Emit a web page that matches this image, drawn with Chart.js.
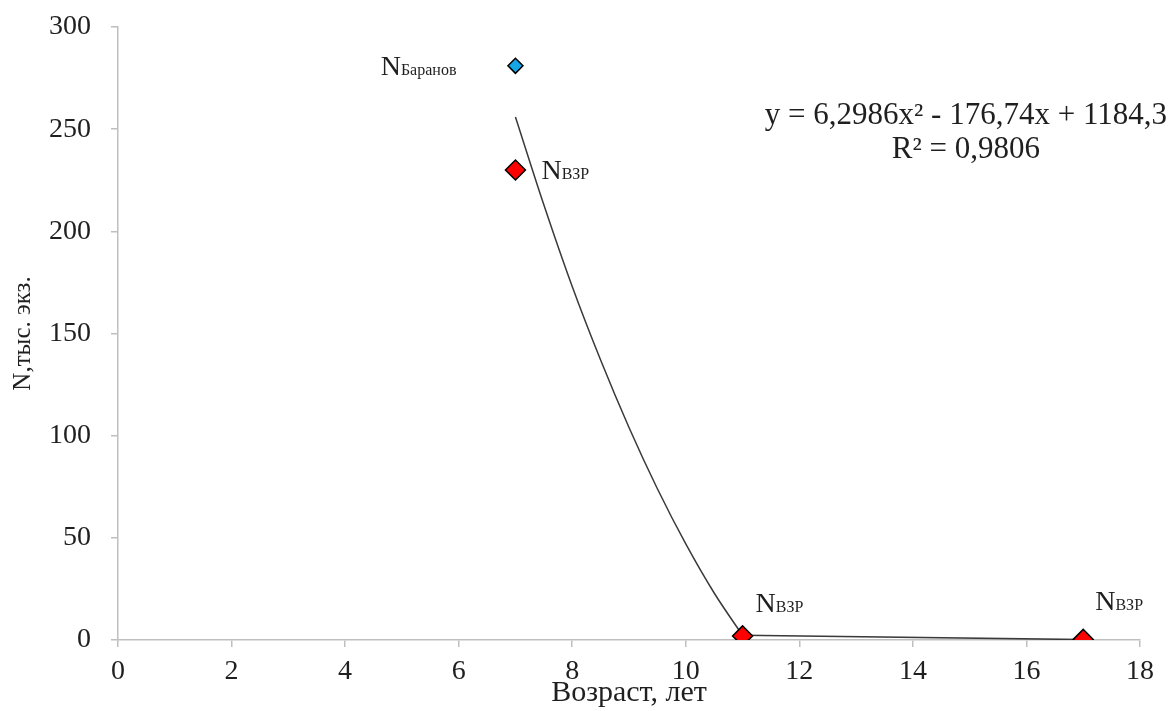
<!DOCTYPE html>
<html>
<head>
<meta charset="utf-8">
<script src="https://cdn.jsdelivr.net/npm/chart.js@4"></script>
<style>
  html, body { margin: 0; padding: 0; background: #fff; }
  #wrap { width: 1171px; height: 711px; position: relative; }
</style>
</head>
<body>
<div id="wrap"><canvas id="chart"></canvas></div>
<script>
'use strict';

// ─── Data ─────────────────────────────────────────────────────────────────────
const VZR_AGE   = [7, 11, 17];
const VZR_N     = [230, 2, 0.3];

const BAR_AGE   = [7];
const BAR_N     = [281];

const TREND_AGE = [7, 7.5, 8, 8.5, 9, 9.5, 10, 10.5, 11];
const TREND_N   = [256, 213, 173, 137, 104, 74, 47, 23, 2.3];

// straight tail from 11 to 17 years
const TAIL_AGE  = [11, 17];
const TAIL_N    = [2.3, 0.2];

const X_TICKS = [0, 2, 4, 6, 8, 10, 12, 14, 16, 18];
const Y_TICKS = [0, 50, 100, 150, 200, 250, 300];

const EQUATION  = 'y = 6,2986x² - 176,74x + 1184,3';
const R_SQUARED = 'R² = 0,9806';

// ─── Look ─────────────────────────────────────────────────────────────────────
const SERIF = "'Liberation Serif', 'Times New Roman', serif";
const TEXT  = '#1f1f1f';
const AXIS  = '#bfbfbf';
const LINE  = '#3a3a3a';

const toPoints = (xs, ys) => xs.map((x, i) => ({ x, y: ys[i] }));

// ─── Point labels + trendline equation ────────────────────────────────────────
function drawSubLabel(ctx, x, y, main, sub, align) {
  ctx.font = '28px ' + SERIF;
  const wMain = ctx.measureText(main).width;
  ctx.font = '16px ' + SERIF;
  const wSub = ctx.measureText(sub).width;
  const start = align === 'right' ? x - wMain - wSub : x;
  ctx.textAlign = 'left';
  ctx.textBaseline = 'alphabetic';
  ctx.font = '28px ' + SERIF;
  ctx.fillText(main, start, y);
  ctx.font = '16px ' + SERIF;
  ctx.fillText(sub, start + wMain, y);
}

const labelsPlugin = {
  id: 'labels',
  afterDatasetsDraw(chart) {
    const { ctx, chartArea, scales: { x, y } } = chart;
    ctx.save();
    ctx.fillStyle = TEXT;

    const px = (v) => x.getPixelForValue(v);
    const py = (v) => y.getPixelForValue(v);

    drawSubLabel(ctx, px(BAR_AGE[0]) - 59, py(BAR_N[0]) + 9, 'N', 'Баранов', 'right');
    drawSubLabel(ctx, px(VZR_AGE[0]) + 26, py(VZR_N[0]) + 9, 'N', 'ВЗР');
    drawSubLabel(ctx, px(VZR_AGE[1]) + 13, py(VZR_N[1]) - 24, 'N', 'ВЗР');
    drawSubLabel(ctx, px(VZR_AGE[2]) + 12, py(VZR_N[2]) - 29, 'N', 'ВЗР');

    ctx.font = '31px ' + SERIF;
    ctx.textBaseline = 'alphabetic';
    const right = chartArea.right + 27;
    const w = ctx.measureText(EQUATION).width;
    ctx.textAlign = 'right';
    ctx.fillText(EQUATION, right, 124);
    ctx.textAlign = 'center';
    ctx.fillText(R_SQUARED, right - w / 2, 158);
    ctx.restore();
  },
};

// ─── Chart ────────────────────────────────────────────────────────────────────
new Chart(document.getElementById('chart').getContext('2d'), {
  type: 'scatter',
  data: {
    datasets: [
      {
        label: 'Тренд',
        type: 'line',
        data: toPoints(TREND_AGE, TREND_N),
        borderColor: LINE,
        borderWidth: 1.5,
        pointRadius: 0,
        cubicInterpolationMode: 'monotone',
        fill: false,
        order: 4,
      },
      {
        label: 'Хвост',
        type: 'line',
        data: toPoints(TAIL_AGE, TAIL_N),
        borderColor: LINE,
        borderWidth: 1.5,
        pointRadius: 0,
        tension: 0,
        fill: false,
        order: 3,
      },
      {
        label: 'NВЗР',
        data: toPoints(VZR_AGE, VZR_N),
        pointStyle: 'rectRot',
        pointRadius: 10,
        backgroundColor: '#ff0000',
        borderColor: '#000',
        borderWidth: 1.5,
        order: 1,
      },
      {
        label: 'NБаранов',
        data: toPoints(BAR_AGE, BAR_N),
        pointStyle: 'rectRot',
        pointRadius: 7.5,
        backgroundColor: '#14a6e6',
        borderColor: '#000',
        borderWidth: 1.5,
        order: 2,
      },
    ],
  },
  options: {
    responsive: true,
    maintainAspectRatio: false,
    animation: false,
    layout: { padding: { top: 27, right: 31, left: 0, bottom: 0 } },
    plugins: {
      legend:  { display: false },
      tooltip: { enabled: false },
    },
    scales: {
      x: {
        type: 'linear',
        min: X_TICKS[0],
        max: X_TICKS[X_TICKS.length - 1],
        afterBuildTicks: (s) => { s.ticks = X_TICKS.map((v) => ({ value: v })); },
        afterFit: (s) => { s.height = 71; s.paddingLeft = 0; s.paddingRight = 0; },
        border: { color: AXIS, width: 1.5 },
        grid: { drawOnChartArea: false, color: AXIS, tickLength: 7, lineWidth: 1.5 },
        ticks: { color: TEXT, padding: 8, font: { family: SERIF, size: 28 } },
        title: {
          display: true,
          text: 'Возраст, лет',
          color: TEXT,
          padding: { top: 0, bottom: 0 },
          font: { family: SERIF, size: 30 },
        },
      },
      y: {
        type: 'linear',
        min: Y_TICKS[0],
        max: Y_TICKS[Y_TICKS.length - 1],
        afterBuildTicks: (s) => { s.ticks = Y_TICKS.map((v) => ({ value: v })); },
        afterFit: (s) => { s.width = 118; s.paddingTop = 0; s.paddingBottom = 0; },
        border: { color: AXIS, width: 1.5 },
        grid: { drawOnChartArea: false, color: AXIS, tickLength: 7, lineWidth: 1.5 },
        ticks: { color: TEXT, padding: 20, font: { family: SERIF, size: 28 } },
        title: {
          display: true,
          text: 'N,тыс. экз.',
          color: TEXT,
          padding: { top: 8, bottom: 0 },
          font: { family: SERIF, size: 25 },
        },
      },
    },
  },
  plugins: [labelsPlugin],
});
</script>
</body>
</html>
